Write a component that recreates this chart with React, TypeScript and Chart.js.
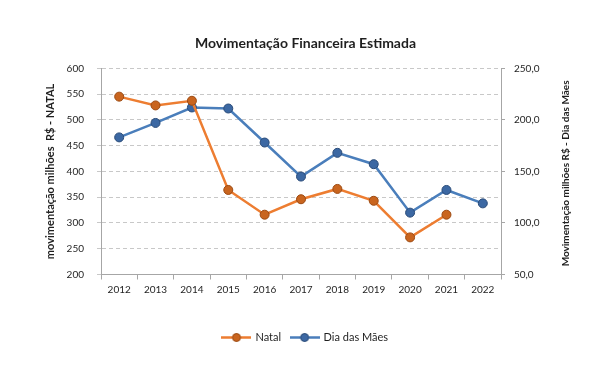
import { useEffect, useRef } from 'react';
import { Chart, registerables } from 'chart.js';

Chart.register(...registerables);

const years = ['2012', '2013', '2014', '2015', '2016', '2017', '2018', '2019', '2020', '2021', '2022'];
const natal = [545, 528, 537, 364, 316, 346, 366, 343, 272, 316, null];
const diaDasMaes = [183, 197, 212, 211, 178, 145, 168, 157, 110, 132, 119];

const chartTitle = 'Movimentação Financeira Estimada';
const leftAxisTitle = 'movimentação milhões  R$ - NATAL';
const rightAxisTitle = 'Movimentação milhões R$ - Dia das Mães';
const seriesNames = ['Natal', 'Dia das Mães'];

const FONT = 'Lato, "Open Sans", sans-serif';
const ORANGE = '#ED7D31';
const ORANGE_PT = '#C9651F';
const ORANGE_PT_BORDER = '#9C4A12';
const BLUE = '#4A7EBB';
const BLUE_PT = '#3C68A3';
const BLUE_PT_BORDER = '#2A4B78';
const TEXT = '#1F1F1F';
const GRID = '#C8C8C8';
const AXIS = '#A6A6A6';

function makeIcon(line: string, fill: string, border: string) {
  const c = document.createElement('canvas');
  c.width = 30;
  c.height = 11;
  const g = c.getContext('2d')!;
  g.strokeStyle = line;
  g.lineWidth = 2.5;
  g.beginPath();
  g.moveTo(0, 5.5);
  g.lineTo(30, 5.5);
  g.stroke();
  g.beginPath();
  g.arc(15, 5.5, 4, 0, Math.PI * 2);
  g.fillStyle = fill;
  g.fill();
  g.lineWidth = 1;
  g.strokeStyle = border;
  g.stroke();
  return c;
}

export default function App() {
  const ref = useRef<HTMLCanvasElement>(null);

  useEffect(() => {
    if (!ref.current) return;
    const icons = [makeIcon(ORANGE, ORANGE_PT, ORANGE_PT_BORDER), makeIcon(BLUE, BLUE_PT, BLUE_PT_BORDER)];

    const axisTitles = {
      id: 'axisTitles',
      afterDraw(chart: any) {
        const { ctx, chartArea } = chart;
        const cy = (chartArea.top + chartArea.bottom) / 2;
        ctx.save();
        ctx.fillStyle = TEXT;
        ctx.font = `bold 11px ${FONT}`;
        ctx.textAlign = 'center';
        ctx.textBaseline = 'middle';
        ctx.translate(50, cy);
        ctx.rotate(-Math.PI / 2);
        ctx.fillText(leftAxisTitle, 0, 0);
        ctx.restore();
        ctx.save();
        ctx.fillStyle = TEXT;
        ctx.font = `bold 10px ${FONT}`;
        ctx.textAlign = 'center';
        ctx.textBaseline = 'middle';
        ctx.translate(566, cy + 2);
        ctx.rotate(-Math.PI / 2);
        ctx.fillText(rightAxisTitle, 0, 0);
        ctx.restore();
      },
    };

    const chart = new Chart(ref.current, {
      type: 'line',
      data: {
        labels: years,
        datasets: [
          {
            label: seriesNames[0],
            data: natal,
            yAxisID: 'y',
            borderColor: ORANGE,
            backgroundColor: ORANGE_PT,
            borderWidth: 2.5,
            pointRadius: 4.5,
            pointBackgroundColor: ORANGE_PT,
            pointBorderColor: ORANGE_PT_BORDER,
            pointBorderWidth: 1,
            tension: 0,
            spanGaps: false,
          },
          {
            label: seriesNames[1],
            data: diaDasMaes,
            yAxisID: 'y1',
            borderColor: BLUE,
            backgroundColor: BLUE_PT,
            borderWidth: 2.5,
            pointRadius: 4.5,
            pointBackgroundColor: BLUE_PT,
            pointBorderColor: BLUE_PT_BORDER,
            pointBorderWidth: 1,
            tension: 0,
          },
        ],
      },
      options: {
        responsive: false,
        animation: false,
        layout: { padding: { top: 0, left: 0, right: 0, bottom: 12 } },
        plugins: {
          title: {
            display: true,
            text: chartTitle,
            color: TEXT,
            font: { family: FONT, size: 14, weight: 'bold', lineHeight: 1.2 },
            padding: { top: 35, bottom: 16.5 },
          },
          legend: {
            display: true,
            position: 'bottom',
            labels: {
              color: TEXT,
              font: { family: FONT, size: 11 },
              usePointStyle: true,
              pointStyleWidth: 27,
              padding: 10,
              generateLabels: (ch: any) =>
                ch.data.datasets.map((ds: any, i: number) => ({
                  text: ds.label,
                  pointStyle: icons[i],
                  datasetIndex: i,
                  fontColor: TEXT,
                  hidden: false,
                  lineWidth: 0,
                  strokeStyle: 'transparent',
                  fillStyle: 'transparent',
                })),
            },
          },
          tooltip: { enabled: false },
        },
        scales: {
          x: {
            type: 'category',
            offset: true,
            grid: { display: true, offset: true, drawOnChartArea: false, drawTicks: true, tickLength: 5, color: AXIS },
            border: { display: true, color: AXIS, width: 1 },
            ticks: { color: TEXT, font: { family: FONT, size: 10 }, padding: 4, maxRotation: 0 },
            afterFit: (s: any) => { s.height = 47.5; },
          },
          y: {
            type: 'linear',
            position: 'left',
            min: 200,
            max: 600,
            ticks: { stepSize: 50, color: TEXT, font: { family: FONT, size: 10 }, padding: 13 },
            grid: { color: GRID, tickLength: 4, drawTicks: true, lineWidth: 1 },
            border: { display: true, color: AXIS, width: 1, dash: [4, 3] },
            afterFit: (s: any) => { s.width = 101; },
          },
          y1: {
            type: 'linear',
            position: 'right',
            min: 50,
            max: 250,
            ticks: {
              stepSize: 50,
              color: TEXT,
              font: { family: FONT, size: 10 },
              padding: 9,
              callback: (v: any) => Number(v).toFixed(1).replace('.', ','),
            },
            grid: { drawOnChartArea: false, tickLength: 4, color: AXIS },
            border: { display: true, color: AXIS, width: 1 },
            afterFit: (s: any) => { s.width = 110; },
          },
        },
      },
      plugins: [axisTitles],
    });
    return () => chart.destroy();
  }, []);

  return (
    <div style={{ position: 'fixed', left: 0, top: 0, width: 611, height: 365, background: '#fff' }}>
      <canvas ref={ref} width={611} height={365} style={{ display: 'block' }} />
    </div>
  );
}
